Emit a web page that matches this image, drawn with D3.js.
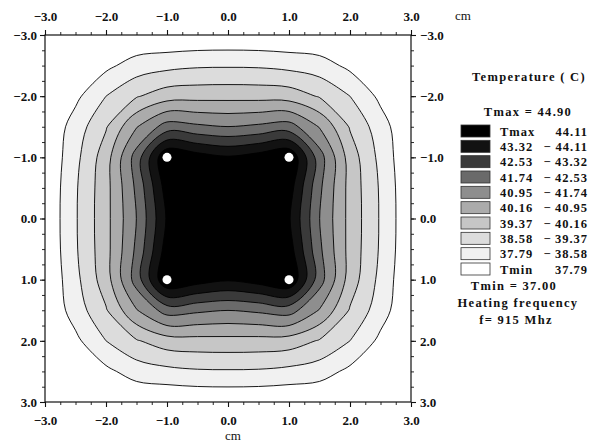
<!DOCTYPE html>
<html>
<head>
<meta charset="utf-8">
<script src="https://cdn.jsdelivr.net/npm/d3@7"></script>
<style>
  body { margin: 0; background: #fff; }
  text { font-family: "Liberation Serif", "DejaVu Serif", serif; font-weight: bold; fill: #111; }
</style>
</head>
<body>
<div id="container"></div>
<script>
// grid positions of the sampled temperatures (cm)
var gridX = [-3.0, -2.5, -2.0, -1.5, -1.0, -0.5, 0.0, 0.5, 1.0, 1.5, 2.0, 2.5, 3.0];
var gridY = [-3.0, -2.5, -2.0, -1.5, -1.0, -0.5, 0.0, 0.5, 1.0, 1.5, 2.0, 2.5, 3.0];

// temperature (C), one row per gridY value
var temperature = [
  [37.00, 37.00, 37.02, 37.05, 37.05, 37.08, 37.10, 37.08, 37.05, 37.05, 37.02, 37.00, 37.00],
  [37.00, 37.25, 37.60, 38.15, 38.35, 38.48, 38.50, 38.48, 38.35, 38.15, 37.60, 37.25, 37.00],
  [37.02, 37.60, 38.58, 39.30, 39.80, 39.88, 39.90, 39.88, 39.80, 39.30, 38.58, 37.60, 37.02],
  [37.05, 38.15, 39.30, 40.90, 42.10, 41.90, 41.75, 41.90, 42.10, 40.90, 39.30, 38.15, 37.05],
  [37.05, 38.35, 39.80, 42.10, 44.90, 44.50, 44.20, 44.50, 44.90, 42.10, 39.80, 38.35, 37.05],
  [37.08, 38.48, 39.88, 41.90, 44.50, 44.60, 44.50, 44.60, 44.50, 41.90, 39.88, 38.48, 37.08],
  [37.10, 38.50, 39.90, 41.75, 44.20, 44.50, 44.45, 44.50, 44.20, 41.75, 39.90, 38.50, 37.10],
  [37.08, 38.48, 39.88, 41.90, 44.50, 44.60, 44.50, 44.60, 44.50, 41.90, 39.88, 38.48, 37.08],
  [37.05, 38.35, 39.80, 42.10, 44.90, 44.50, 44.20, 44.50, 44.90, 42.10, 39.80, 38.35, 37.05],
  [37.05, 38.15, 39.30, 40.90, 42.10, 41.90, 41.75, 41.90, 42.10, 40.90, 39.30, 38.15, 37.05],
  [37.02, 37.60, 38.58, 39.30, 39.80, 39.88, 39.90, 39.88, 39.80, 39.30, 38.58, 37.60, 37.02],
  [37.00, 37.25, 37.60, 38.15, 38.35, 38.48, 38.50, 38.48, 38.35, 38.15, 37.60, 37.25, 37.00],
  [37.00, 37.00, 37.02, 37.05, 37.05, 37.08, 37.10, 37.08, 37.05, 37.05, 37.02, 37.00, 37.00]
];

var levels = [37.79, 38.58, 39.37, 40.16, 40.95, 41.74, 42.53, 43.32, 44.11];
var tMin = "37.00";
var tMax = "44.90";

// heating sources (cm)
var sourceX = [-1, 1, -1, 1];
var sourceY = [-1, -1, 1, 1];

var majorTicks = [-3, -2, -1, 0, 1, 2, 3];
var minorTicks = d3.range(-3, 3.01, 0.25);

// band colours, lowest band first
var bandFills = ["#ffffff", "#f1f1f1", "#dcdcdc", "#c6c6c6", "#ababab", "#8e8e8e", "#6a6a6a", "#3a3a3a", "#121212", "#000000"];

var W = 596, H = 442;
var plot = { left: 45, right: 411, top: 35, bottom: 402 };

var svg = d3.select("#container").append("svg")
  .attr("width", W)
  .attr("height", H);

var x = d3.scaleLinear().domain([-3, 3]).range([plot.left, plot.right]);
var y = d3.scaleLinear().domain([-3, 3]).range([plot.top, plot.bottom]);

// grid index -> pixel (d3.contours puts sample i at i + 0.5)
var gx = d3.scaleLinear().domain([0.5, gridX.length - 0.5]).range([x(gridX[0]), x(gridX[gridX.length - 1])]);
var gy = d3.scaleLinear().domain([0.5, gridY.length - 0.5]).range([y(gridY[0]), y(gridY[gridY.length - 1])]);

svg.append("clipPath").attr("id", "plotClip")
  .append("rect")
    .attr("x", plot.left).attr("y", plot.top)
    .attr("width", plot.right - plot.left).attr("height", plot.bottom - plot.top);

var contours = d3.contours()
  .size([gridX.length, gridY.length])
  .thresholds(levels)(temperature.flat());

var ringLine = d3.line()
  .x(function(p) { return gx(p[0]); })
  .y(function(p) { return gy(p[1]); })
  .curve(d3.curveCatmullRomClosed.alpha(0.5));

function contourPath(c) {
  return c.coordinates.map(function(poly) {
    return poly.map(function(ring) { return ringLine(ring.slice(0, -1)); }).join("");
  }).join("");
}

var map = svg.append("g").attr("clip-path", "url(#plotClip)");

map.append("rect")
  .attr("x", plot.left).attr("y", plot.top)
  .attr("width", plot.right - plot.left).attr("height", plot.bottom - plot.top)
  .attr("fill", bandFills[0]);

map.selectAll(".band")
    .data(contours)
  .enter().append("path")
    .attr("class", "band")
    .attr("d", contourPath)
    .attr("fill", function(d, i) { return bandFills[i + 1]; })
    .attr("stroke", "#000")
    .attr("stroke-width", 0.9);

// heating sources
map.selectAll(".source")
    .data(sourceX)
  .enter().append("circle")
    .attr("class", "source")
    .attr("cx", function(d) { return x(d); })
    .attr("cy", function(d, i) { return y(sourceY[i]); })
    .attr("r", 4.5)
    .attr("fill", "#fff");

// frame
svg.append("rect")
  .attr("x", plot.left).attr("y", plot.top)
  .attr("width", plot.right - plot.left).attr("height", plot.bottom - plot.top)
  .attr("fill", "none")
  .attr("stroke", "#111")
  .attr("stroke-width", 1.2);

// axes
var fmt = d3.format(".1f");

function addAxis(axis, tx, ty, pad) {
  var g = svg.append("g")
    .attr("transform", "translate(" + tx + "," + ty + ")")
    .call(axis.tickValues(majorTicks).tickSize(5).tickSizeOuter(0).tickPadding(pad).tickFormat(fmt));
  g.select(".domain").remove();
  g.selectAll("line").attr("stroke", "#111").attr("stroke-width", 1.1);
  g.selectAll("text")
    .attr("fill", "#111")
    .style("font-family", "'Liberation Serif', serif")
    .style("font-weight", "bold")
    .style("font-size", "13px");
  return g;
}

function addMinor(axis, tx, ty) {
  var g = svg.append("g")
    .attr("transform", "translate(" + tx + "," + ty + ")")
    .call(axis.tickValues(minorTicks).tickSize(3).tickSizeOuter(0).tickFormat(""));
  g.select(".domain").remove();
  g.selectAll("line").attr("stroke", "#111").attr("stroke-width", 0.9);
}

addMinor(d3.axisTop(x), 0, plot.top);
addMinor(d3.axisBottom(x), 0, plot.bottom);
addMinor(d3.axisLeft(y), plot.left, 0);
addMinor(d3.axisRight(y), plot.right, 0);

addAxis(d3.axisTop(x), 0, plot.top, 9);
addAxis(d3.axisBottom(x), 0, plot.bottom, 9);
addAxis(d3.axisLeft(y), plot.left, 0, 3);
addAxis(d3.axisRight(y), plot.right, 0, 4);

svg.append("text")
  .attr("x", 455).attr("y", 20)
  .style("font-weight", "normal").style("font-size", "13px")
  .text("cm");

svg.append("text")
  .attr("x", 233).attr("y", 440)
  .attr("text-anchor", "middle")
  .style("font-weight", "normal").style("font-size", "13px")
  .text("cm");

// legend
var legendTitles = [
  { text: "Temperature ( C)", x: 529, y: 81 },
  { text: "Tmax = " + tMax, x: 528, y: 116 },
  { text: "Tmin = " + tMin, x: 514, y: 290 },
  { text: "Heating frequency", x: 518, y: 307 },
  { text: "f= 915 Mhz", x: 516, y: 324 }
];

svg.selectAll(".legendTitle")
    .data(legendTitles)
  .enter().append("text")
    .attr("class", "legendTitle")
    .attr("x", function(d) { return d.x; })
    .attr("y", function(d) { return d.y; })
    .attr("text-anchor", "middle")
    .style("font-size", "12.5px")
    .style("letter-spacing", "1.3px")
    .text(function(d) { return d.text; });

// rows from the hottest band down
var legendRows = d3.range(levels.length, -1, -1).map(function(b) {
  var lo = b === 0 ? null : levels[b - 1];
  var hi = b === levels.length ? null : levels[b];
  return { band: b, lo: lo, hi: hi };
});

var rowY = d3.scaleLinear().domain([0, legendRows.length - 1]).range([131, 269]);

var rows = svg.selectAll(".legendRow")
    .data(legendRows)
  .enter().append("g")
    .attr("class", "legendRow")
    .attr("transform", function(d, i) { return "translate(0," + rowY(i) + ")"; });

rows.append("rect")
  .attr("x", 461).attr("y", -6)
  .attr("width", 29).attr("height", 12)
  .attr("fill", function(d) { return bandFills[d.band]; })
  .attr("stroke", "#333")
  .attr("stroke-width", 0.8);

rows.append("text")
  .attr("x", 500).attr("y", 4.5)
  .style("font-size", "12.5px").style("letter-spacing", "1px")
  .text(function(d) {
    if (d.hi === null) return "Tmax";
    if (d.lo === null) return "Tmin";
    return d.lo.toFixed(2);
  });

rows.filter(function(d) { return d.lo !== null && d.hi !== null; })
  .append("text")
    .attr("x", 547).attr("y", 4.5)
    .attr("text-anchor", "middle")
    .style("font-size", "12.5px")
    .text("\u2212");

rows.append("text")
  .attr("x", 588).attr("y", 4.5)
  .attr("text-anchor", "end")
  .style("font-size", "12.5px").style("letter-spacing", "1px")
  .text(function(d) { return (d.hi === null ? d.lo : d.hi).toFixed(2); });
</script>
</body>
</html>
